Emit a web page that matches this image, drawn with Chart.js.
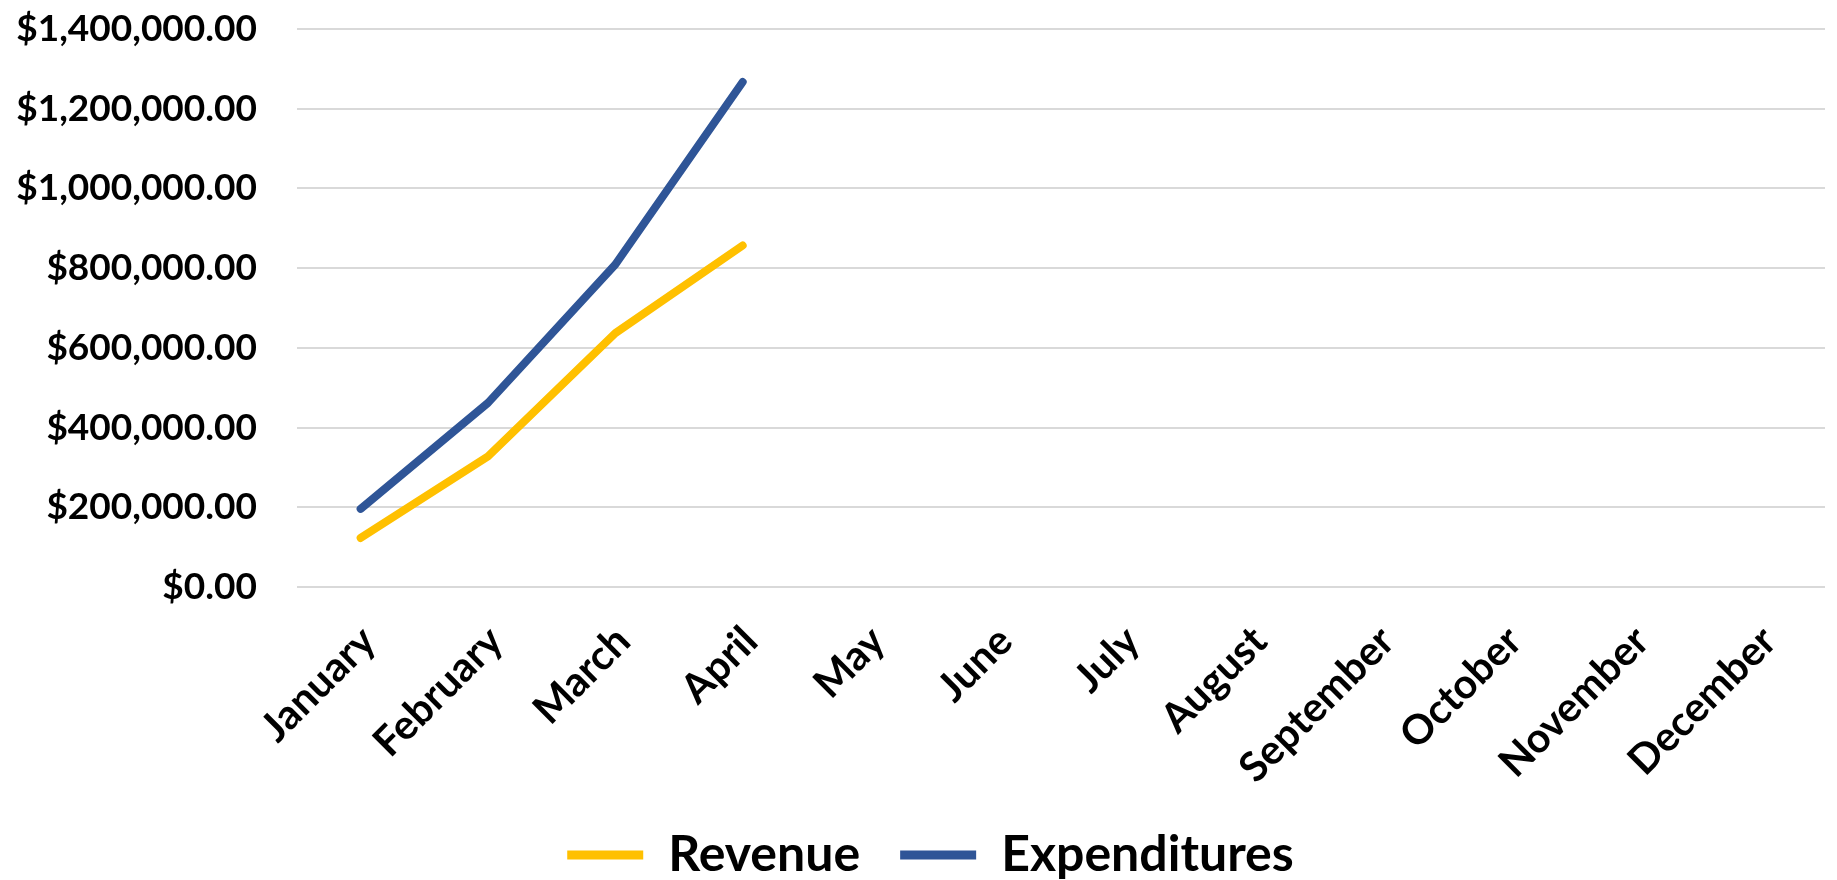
<!DOCTYPE html>
<html>
<head>
<meta charset="utf-8">
<script src="https://cdn.jsdelivr.net/npm/chart.js@4/dist/chart.umd.min.js"></script>
<style>
  html, body { margin: 0; padding: 0; background: #ffffff; }
  #wrap { width: 1837px; height: 880px; }
</style>
</head>
<body>
<div id="wrap"><canvas id="c" width="1837" height="880"></canvas></div>
<script>
const months = ["January","February","March","April","May","June","July","August","September","October","November","December"];
const revenue = [123000, 328000, 637000, 857000, null, null, null, null, null, null, null, null];
const expenditures = [196000, 462000, 809000, 1267000, null, null, null, null, null, null, null, null];
const yMin = 0;
const yMax = 1400000;
const yStep = 200000;

const FONT = "Lato, 'Open Sans', sans-serif";

const legendShift = {
  id: 'legendShift',
  afterLayout(chart) {
    if (chart.legend) { chart.legend.left += 18; chart.legend.right += 18; }
  }
};

const chart = new Chart(document.getElementById('c'), {
  type: 'line',
  data: {
    labels: months,
    datasets: [
      {
        label: 'Revenue',
        data: revenue,
        borderColor: '#FFC000',
        backgroundColor: '#FFC000',
        borderWidth: 8,
        borderCapStyle: 'round',
        borderJoinStyle: 'round',
        pointRadius: 0,
        tension: 0,
        spanGaps: false
      },
      {
        label: 'Expenditures',
        data: expenditures,
        borderColor: '#2F5597',
        backgroundColor: '#2F5597',
        borderWidth: 8,
        borderCapStyle: 'round',
        borderJoinStyle: 'round',
        pointRadius: 0,
        tension: 0,
        spanGaps: false
      }
    ]
  },
  plugins: [legendShift],
  options: {
    responsive: false,
    animation: false,
    devicePixelRatio: 1,
    layout: { padding: { left: 0, right: 12, top: 29, bottom: -10 } },
    plugins: {
      tooltip: { enabled: false },
      legend: {
        position: 'bottom',
        labels: {
          boxWidth: 76,
          boxHeight: 9,
          useBorderRadius: true,
          borderRadius: 4.5,
          padding: 40,
          color: '#000000',
          font: { family: FONT, size: 50, weight: 'bold' },
          generateLabels: (chart) => chart.data.datasets.map((ds, i) => ({
            text: ds.label,
            fillStyle: ds.borderColor,
            strokeStyle: ds.borderColor,
            lineWidth: 0,
            hidden: false,
            datasetIndex: i,
            fontColor: '#000000'
          }))
        }
      }
    },
    scales: {
      x: {
        offset: true,
        grid: { display: false, drawTicks: false },
        border: { display: false },
        afterFit: (s) => { s.height = 203; },
        ticks: {
          minRotation: 45,
          maxRotation: 45,
          autoSkip: false,
          padding: 30,
          labelOffset: 8,
          color: '#000000',
          font: { family: FONT, size: 41, weight: 'bold' }
        }
      },
      y: {
        min: yMin,
        max: yMax,
        afterFit: (s) => { s.width = 297; s.paddingTop = 20; s.paddingBottom = 20; },
        grid: { color: '#D9D9D9', lineWidth: 2, drawTicks: false },
        border: { display: false },
        ticks: {
          stepSize: yStep,
          padding: 40,
          color: '#000000',
          font: { family: FONT, size: 37, weight: 'bold' },
          callback: (v) => '$' + Number(v).toLocaleString('en-US', { minimumFractionDigits: 2, maximumFractionDigits: 2 })
        }
      }
    }
  }
});
</script>
</body>
</html>
